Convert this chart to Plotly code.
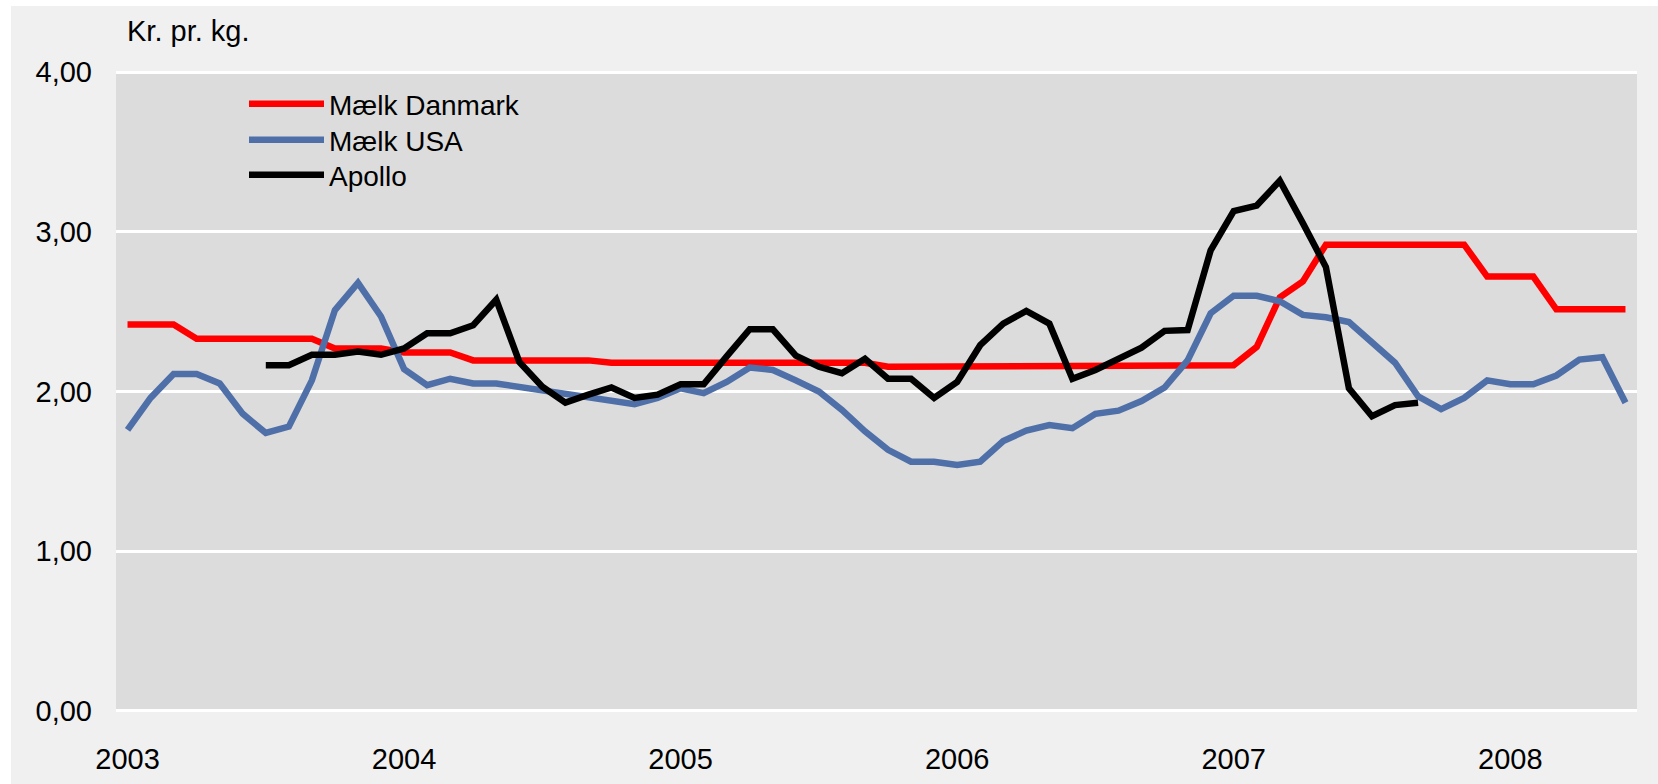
import plotly.graph_objects as go

# Monthly observations Jan 2003 - Jun 2008
months = [f"{y}-{m:02d}" for y in range(2003, 2009) for m in range(1, 13)][:66]

maelk_danmark = [2.42, 2.42, 2.42, 2.33, 2.33, 2.33, 2.33, 2.33, 2.33, 2.27, 2.27, 2.27,
                 2.245, 2.245, 2.245, 2.195, 2.195, 2.195, 2.195, 2.195, 2.195, 2.18, 2.18, 2.18,
                 2.18, 2.18, 2.18, 2.18, 2.18, 2.18, 2.18, 2.18, 2.18, 2.155, 2.155, 2.155,
                 2.155, 2.155, 2.155, 2.155, 2.155, 2.155, 2.165, 2.165, 2.165, 2.165, 2.165, 2.165,
                 2.165, 2.28, 2.59, 2.69, 2.92, 2.92, 2.92, 2.92, 2.92, 2.92, 2.92, 2.72,
                 2.72, 2.72, 2.515, 2.515, 2.515, 2.515]

maelk_usa = [1.76, 1.96, 2.11, 2.11, 2.05, 1.86, 1.74, 1.78, 2.07, 2.51, 2.68, 2.47,
             2.14, 2.04, 2.08, 2.05, 2.05, 2.03, 2.01, 1.98, 1.96, 1.94, 1.92, 1.96,
             2.02, 1.99, 2.06, 2.15, 2.135, 2.07, 2.00, 1.885, 1.75, 1.635, 1.56, 1.56,
             1.54, 1.56, 1.69, 1.755, 1.79, 1.77, 1.86, 1.88, 1.94, 2.025, 2.195, 2.49,
             2.60, 2.60, 2.565, 2.48, 2.465, 2.435, 2.305, 2.18, 1.97, 1.89, 1.96, 2.07,
             2.045, 2.045, 2.10, 2.20, 2.215, 1.93]

apollo = [None, None, None, None, None, None, 2.165, 2.165, 2.23, 2.23, 2.25, 2.23,
          2.27, 2.365, 2.365, 2.415, 2.575, 2.185, 2.03, 1.93, 1.98, 2.025, 1.96, 1.98,
          2.045, 2.045, 2.22, 2.39, 2.39, 2.225, 2.155, 2.115, 2.205, 2.08, 2.08, 1.96,
          2.06, 2.29, 2.425, 2.505, 2.425, 2.08, 2.135, 2.20, 2.275, 2.38, 2.385, 2.885,
          3.13, 3.165, 3.32, 3.055, 2.78, 2.02, 1.845, 1.915, 1.93, None, None, None,
          None, None, None, None, None, None]

year_ticks = ["2003-01", "2004-01", "2005-01", "2006-01", "2007-01", "2008-01"]
year_labels = ["2003", "2004", "2005", "2006", "2007", "2008"]
y_ticks = [0, 1, 2, 3, 4]
y_labels = ["0,00", "1,00", "2,00", "3,00", "4,00"]

FONT = "Arial, Liberation Sans, sans-serif"

W, H = 1658, 784
L, R, T, B = 116, 21, 71, 72
pw, ph = W - L - R, H - T - B

def px_x(p):
    return (p - L) / pw

def px_y(p):
    return (H - B - p) / ph

fig = go.Figure()
fig.add_trace(go.Scatter(x=months, y=maelk_danmark, name="Mælk Danmark", mode="lines",
                         line=dict(color="#ff0000", width=6.5), legend="legend"))
fig.add_trace(go.Scatter(x=months, y=maelk_usa, name="Mælk USA", mode="lines",
                         line=dict(color="#4f6fa8", width=6.5), legend="legend2"))
fig.add_trace(go.Scatter(x=months, y=apollo, name="Apollo", mode="lines",
                         line=dict(color="#000000", width=6.5), connectgaps=False,
                         legend="legend3"))

fig.add_shape(type="rect", xref="paper", yref="paper", layer="below",
              x0=px_x(11), x1=px_x(W + 5), y0=px_y(H + 5), y1=px_y(6),
              fillcolor="#f0f0f0", line=dict(width=0))
fig.add_shape(type="rect", xref="paper", yref="paper", layer="below",
              x0=0, x1=1, y0=0, y1=1, fillcolor="#dcdcdc", line=dict(width=0))

fig.add_annotation(text="Kr. pr. kg.", xref="paper", yref="paper",
                   x=px_x(125), y=px_y(31), xanchor="left", yanchor="middle",
                   showarrow=False, font=dict(family=FONT, size=29, color="black"))

def leg(ycenter):
    return dict(x=px_x(244), y=px_y(ycenter), xanchor="left", yanchor="middle",
                bgcolor="rgba(0,0,0,0)", borderwidth=0,
                font=dict(family=FONT, size=28, color="black"), itemwidth=75)

fig.update_layout(
    width=W, height=H,
    margin=dict(l=L, r=R, t=T, b=B, pad=0, autoexpand=False),
    paper_bgcolor="white",
    plot_bgcolor="#dcdcdc",
    font=dict(family=FONT, size=29, color="black"),
    showlegend=True,
    legend=leg(104),
    legend2=leg(140),
    legend3=leg(175),
    xaxis=dict(type="category", range=[-0.5, 65.5], tickmode="array",
               tickvals=year_ticks, ticktext=year_labels, showgrid=False,
               zeroline=False, showline=False, ticks="", ticklabelstandoff=27,
               automargin=False,
               tickfont=dict(family=FONT, size=29, color="black")),
    yaxis=dict(range=[-0.008, 4.008], tickmode="array", tickvals=y_ticks, ticktext=y_labels,
               showgrid=True, gridcolor="white", gridwidth=3, zeroline=False,
               showline=False, ticks="", ticklabelstandoff=23, automargin=False,
               tickfont=dict(family=FONT, size=29, color="black")),
)

fig.write_html("out.html", config={"displayModeBar": False},
               post_script="document.body.style.margin='0';document.body.style.overflow='hidden';")
